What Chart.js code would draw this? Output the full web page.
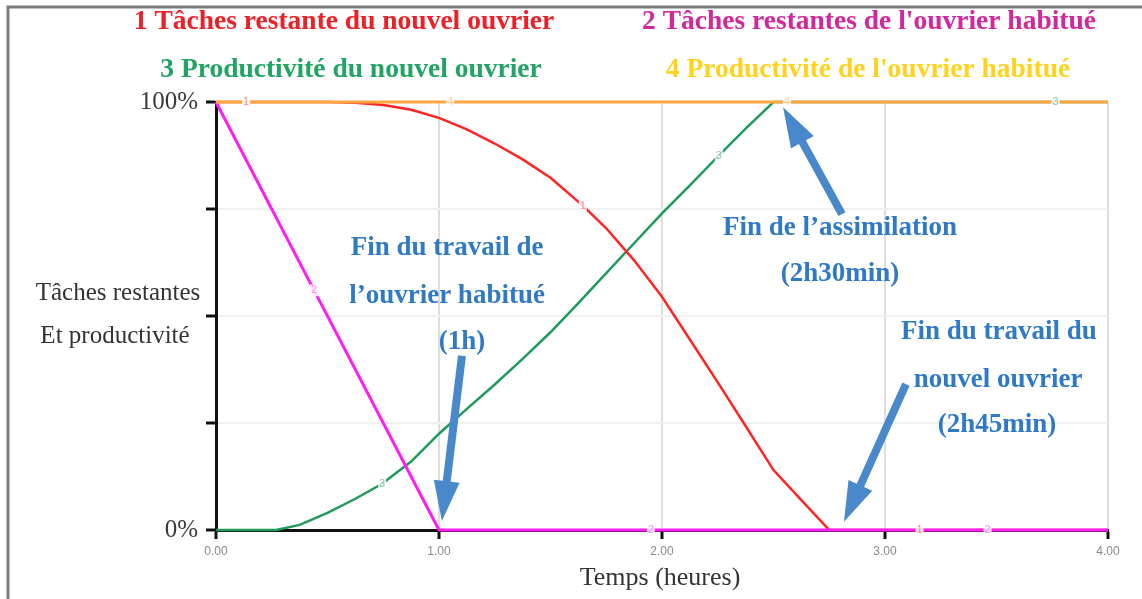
<!DOCTYPE html>
<html>
<head>
<meta charset="utf-8">
<script src="https://cdn.jsdelivr.net/npm/chart.js@4/dist/chart.umd.min.js"></script>
<style>
  html, body { margin: 0; padding: 0; background: #fff; }
  canvas { display: block; }
</style>
</head>
<body>
<canvas id="chart" width="1142" height="599"></canvas>
<script>
// Time axis (hours) and series values (% of the task / productivity)
const xTicks = [0, 1, 2, 3, 4];
const yTicks = [0, 25, 50, 75, 100];

// 1 — tasks remaining for the new worker
const newRemainingHours = [0, 0.135, 0.5, 0.625, 0.75, 0.875, 1.0, 1.125, 1.25, 1.375, 1.5, 1.645, 1.75, 1.875, 2.0, 2.125, 2.25, 2.375, 2.5, 2.625, 2.75, 3.155, 4.0];
const newRemaining      = [100, 100, 100, 99.8, 99.3, 98.2, 96.3, 93.6, 90.3, 86.6, 82.3, 75.8, 70.5, 63, 54.5, 44.5, 34.5, 24.3, 14, 7, 0, 0, 0];
const newRemainingMarks = [1, 11, 21];

// 2 — tasks remaining for the experienced worker
const oldRemainingHours = [0, 0.44, 1.0, 1.95, 3.46, 4.0];
const oldRemaining      = [100, 56, 0, 0, 0, 0];
const oldRemainingMarks = [1, 3, 4];

// 3 — productivity of the new worker
const newProdHours = [0, 0.27, 0.375, 0.5, 0.625, 0.745, 0.875, 1.0, 1.125, 1.25, 1.375, 1.5, 1.625, 1.75, 1.875, 2.0, 2.125, 2.255, 2.375, 2.5, 3.765, 4.0];
const newProd      = [0, 0, 1.2, 4, 7.3, 10.8, 16, 22.5, 28.3, 34, 40, 46.2, 53, 60, 67, 74, 80.5, 87.5, 93.8, 100, 100, 100];
const newProdMarks = [5, 17, 20];

// 4 — productivity of the experienced worker
const oldProdHours = [0, 1.05, 2.56, 4.0];
const oldProd      = [100, 100, 100, 100];
const oldProdMarks = [1, 2];

const legendLines = [
  { text: "1 Tâches restante du nouvel ouvrier", color: "#ee2027", x: 344, y: 22 },
  { text: "2 Tâches restantes de l'ouvrier habitué", color: "#d3279c", x: 869, y: 22 },
  { text: "3 Productivité du nouvel ouvrier", color: "#22a464", x: 351, y: 70 },
  { text: "4 Productivité de l'ouvrier habitué", color: "#ffd21c", x: 868, y: 70 }
];

// Callouts, placed in data units (hours, %)
const notes = [
  { text: "Fin du travail de", t: 1.036, v: 65.9 },
  { text: "l\u2019ouvrier habitué", t: 1.036, v: 54.7 },
  { text: "(1h)", t: 1.103, v: 43.9 },
  { text: "Fin de l\u2019assimilation", t: 2.798, v: 70.6 },
  { text: "(2h30min)", t: 2.798, v: 59.8 },
  { text: "Fin du travail du", t: 3.511, v: 46.3 },
  { text: "nouvel ouvrier", t: 3.507, v: 35.0 },
  { text: "(2h45min)", t: 3.502, v: 24.5 }
];
const arrows = [
  { from: [1.103, 40.7], to: [1.013, 2.1] },
  { from: [2.807, 73.8], to: [2.543, 98.8] },
  { from: [3.094, 34.1], to: [2.816, 1.9] }
];

const toPoints = (xs, ys) => xs.map((x, i) => ({ x, y: ys[i] }));

function makeSeries(label, hours, values, color, width, digit, marks, order) {
  return {
    label, data: toPoints(hours, values),
    borderColor: color, borderWidth: width, pointRadius: 0,
    tension: 0, clip: 6, order, digit, marks, markColor: color
  };
}

const datasets = [
  makeSeries("Productivité de l'ouvrier habitué", oldProdHours, oldProd, "#ffa640", 3, "4", oldProdMarks, 1),
  makeSeries("Tâches restantes de l'ouvrier habitué", oldRemainingHours, oldRemaining, "#ff1cf4", 3, "2", oldRemainingMarks, 2),
  makeSeries("Tâches restante du nouvel ouvrier", newRemainingHours, newRemaining, "#ff2424", 2.5, "1", newRemainingMarks, 3),
  makeSeries("Productivité du nouvel ouvrier", newProdHours, newProd, "#1f9a5c", 2.5, "3", newProdMarks, 4)
];

function drawArrow(ctx, x1, y1, x2, y2, shaft, headLen, headW) {
  const dx = x2 - x1, dy = y2 - y1;
  const len = Math.hypot(dx, dy);
  const ux = dx / len, uy = dy / len, px = -uy, py = ux;
  const bx = x2 - ux * headLen, by = y2 - uy * headLen;
  ctx.beginPath();
  ctx.moveTo(x1 + px * shaft / 2, y1 + py * shaft / 2);
  ctx.lineTo(bx + px * shaft / 2, by + py * shaft / 2);
  ctx.lineTo(bx + px * headW / 2, by + py * headW / 2);
  ctx.lineTo(x2, y2);
  ctx.lineTo(bx - px * headW / 2, by - py * headW / 2);
  ctx.lineTo(bx - px * shaft / 2, by - py * shaft / 2);
  ctx.lineTo(x1 - px * shaft / 2, y1 - py * shaft / 2);
  ctx.closePath();
  ctx.fill();
}

const decorations = {
  id: 'decorations',
  beforeDraw(chart) {
    const ctx = chart.ctx;
    ctx.save();
    ctx.fillStyle = '#fff';
    ctx.fillRect(0, 0, chart.width, chart.height);
    // outer frame (top and left edges)
    ctx.strokeStyle = '#7d7d7d';
    ctx.lineWidth = 3;
    ctx.beginPath();
    ctx.moveTo(8, chart.height);
    ctx.lineTo(8, 7);
    ctx.lineTo(chart.width, 7);
    ctx.stroke();
    ctx.restore();
  },
  afterDatasetsDraw(chart) {
    // small series numbers sitting on the curves
    const ctx = chart.ctx;
    ctx.save();
    ctx.font = '11px "Liberation Sans"';
    ctx.textAlign = 'center';
    ctx.textBaseline = 'middle';
    chart.data.datasets.forEach((ds, di) => {
      const meta = chart.getDatasetMeta(di);
      ds.marks.forEach(i => {
        const p = meta.data[i];
        ctx.fillStyle = 'rgba(255,255,255,0.85)';
        ctx.fillRect(p.x - 4, p.y - 6, 8, 12);
        ctx.globalAlpha = 0.55;
        ctx.fillStyle = ds.markColor;
        ctx.fillText(ds.digit, p.x, p.y);
        ctx.globalAlpha = 1;
      });
    });
    ctx.restore();
  },
  afterDraw(chart) {
    const ctx = chart.ctx;
    const xs = chart.scales.x, ys = chart.scales.y;
    ctx.save();
    ctx.textAlign = 'center';
    ctx.textBaseline = 'middle';

    ctx.font = 'bold 27.5px "Liberation Serif"';
    legendLines.forEach(l => { ctx.fillStyle = l.color; ctx.fillText(l.text, l.x, l.y); });

    ctx.font = '25px "Liberation Serif"';
    ctx.fillStyle = '#333';
    ctx.fillText('Tâches restantes', 118, 293);
    ctx.fillText('Et productivité', 115, 336);
    ctx.font = '26px "Liberation Serif"';
    ctx.fillText('Temps (heures)', 660, 578);

    ctx.fillStyle = '#4a88cc';
    arrows.forEach(a => drawArrow(ctx,
      xs.getPixelForValue(a.from[0]), ys.getPixelForValue(a.from[1]),
      xs.getPixelForValue(a.to[0]), ys.getPixelForValue(a.to[1]), 8, 40, 26));

    ctx.font = 'bold 27px "Liberation Serif"';
    ctx.fillStyle = '#3079c6';
    notes.forEach(n => ctx.fillText(n.text, xs.getPixelForValue(n.t), ys.getPixelForValue(n.v)));
    ctx.restore();
  }
};

new Chart(document.getElementById('chart'), {
  type: 'line',
  data: { datasets },
  plugins: [decorations],
  options: {
    responsive: false,
    animation: false,
    layout: { padding: { left: 0, right: 34, top: 102, bottom: 0 } },
    plugins: { legend: { display: false }, tooltip: { enabled: false } },
    scales: {
      x: {
        type: 'linear', min: xTicks[0], max: xTicks[xTicks.length - 1],
        afterFit: s => { s.height = 69; },
        afterBuildTicks: s => { s.ticks = xTicks.map(v => ({ value: v })); },
        ticks: {
          callback: v => Number(v).toFixed(2),
          font: { family: 'Liberation Sans', size: 12 }, color: '#8a8a8a',
          padding: 5, maxRotation: 0, autoSkip: false
        },
        grid: {
          color: c => (c.tick && c.tick.value > 0) ? '#dedede' : 'rgba(0,0,0,0)',
          lineWidth: 2, tickColor: '#111', tickWidth: 3, tickLength: 9
        },
        border: { color: '#111', width: 3 }
      },
      y: {
        type: 'linear', min: yTicks[0], max: yTicks[yTicks.length - 1],
        afterFit: s => { s.width = 216; },
        afterBuildTicks: s => { s.ticks = yTicks.map(v => ({ value: v })); },
        ticks: {
          callback: v => (v === 0 || v === 100) ? v + '%' : '',
          font: { family: 'Liberation Serif', size: 25 }, color: '#3a3a3a',
          padding: 8
        },
        grid: {
          color: c => (c.tick && c.tick.value > 0 && c.tick.value < 100) ? '#f0f0f0' : 'rgba(0,0,0,0)',
          lineWidth: 2, tickColor: '#111', tickWidth: 3, tickLength: 10
        },
        border: { color: '#111', width: 3 }
      }
    }
  }
});
</script>
</body>
</html>
